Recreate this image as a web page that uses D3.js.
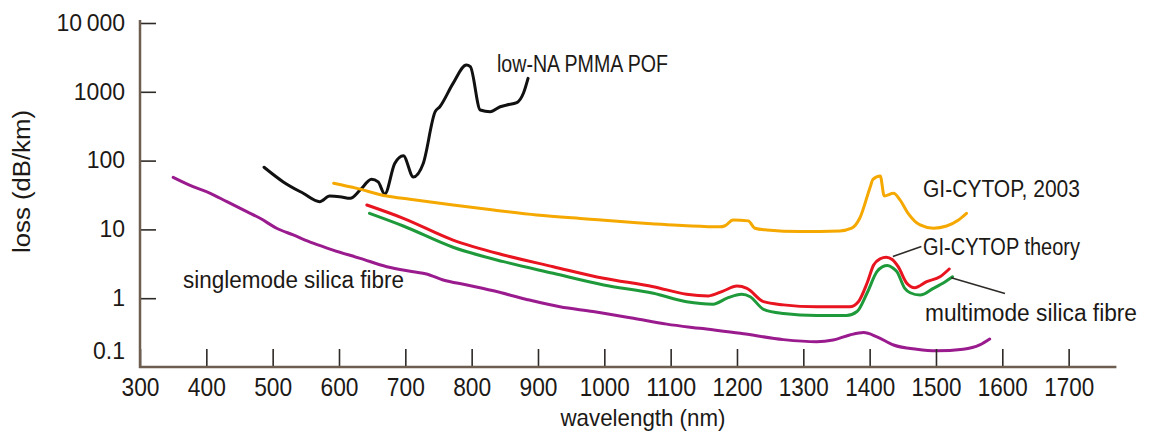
<!DOCTYPE html>
<html>
<head>
<meta charset="utf-8">
<script src="https://cdn.jsdelivr.net/npm/d3@7"></script>
<style>
  html, body { margin: 0; padding: 0; background: #ffffff; }
  svg { display: block; }
  text { font-family: "Liberation Sans", Arial, sans-serif; fill: #1c1916; }
</style>
</head>
<body>
<svg id="chart" width="1149" height="432"></svg>
<script>
// Attenuation spectra of optical fibres, loss (dB/km) against wavelength (nm)

// Axis ticks
const wavelengthTicks = [300, 400, 500, 600, 700, 800, 900, 1000, 1100, 1200, 1300, 1400, 1500, 1600, 1700];
const lossTicks = [0.1, 1, 10, 100, 1000, 10000];
const lossTickLabels = ["0.1", "1", "10", "100", "1000", "10\u2009000"];

// low-NA PMMA POF
const pofNm   = [487, 516, 546, 571, 586, 601, 617, 632, 649, 659, 669, 684, 697, 712, 727, 745, 752, 772, 792, 798, 813, 828, 843, 853, 868, 878, 885];
const pofLoss = [80, 49, 33.5, 25.3, 30.5, 29.9, 28.3, 37.4, 53.5, 49, 32.7, 91, 118, 58, 91, 514, 607, 1327, 2455, 2317, 543, 514, 607, 643, 695, 951, 1570];

// GI-CYTOP, 2003
const cytopNm   = [592, 627, 672, 707, 772, 833, 898, 973, 1049, 1124, 1174, 1182, 1194, 1217, 1227, 1245, 1295, 1355, 1373, 1385, 1401, 1405, 1416, 1422, 1436, 1446, 1458, 1476, 1496, 1516, 1534, 1546];
const cytopLoss = [46.8, 39.5, 30.5, 27.4, 22.6, 19.1, 16.2, 14.2, 12.5, 11.3, 10.9, 11.3, 13.7, 13.3, 10.4, 9.8, 9.3, 9.5, 10.4, 14.5, 41.8, 53.5, 59.7, 30.6, 33.5, 26.7, 17.1, 11.6, 10.4, 11.2, 13.7, 17.1];

// GI-CYTOP theory
const theoryNm   = [642, 697, 772, 848, 923, 999, 1074, 1124, 1157, 1179, 1200, 1215, 1240, 1270, 1320, 1370, 1383, 1396, 1406, 1416, 1425, 1434, 1443, 1456, 1468, 1486, 1506, 1520];
const theoryLoss = [22.6, 14.5, 7.0, 4.25, 2.87, 1.95, 1.47, 1.14, 1.08, 1.27, 1.5, 1.39, 0.89, 0.80, 0.75, 0.75, 0.89, 1.65, 3.04, 3.75, 3.95, 3.65, 2.87, 1.65, 1.42, 1.74, 2.05, 2.66];

// multimode silica fibre
const multimodeNm   = [646, 697, 772, 848, 923, 999, 1074, 1124, 1164, 1185, 1207, 1220, 1240, 1270, 1320, 1365, 1381, 1396, 1411, 1419, 1427, 1435, 1441, 1453, 1461, 1476, 1496, 1514, 1525];
const multimodeLoss = [17.1, 11.2, 5.5, 3.4, 2.3, 1.56, 1.18, 0.89, 0.82, 1.0, 1.14, 1.05, 0.69, 0.60, 0.56, 0.56, 0.64, 1.18, 2.43, 2.85, 2.98, 2.75, 2.43, 1.39, 1.2, 1.11, 1.39, 1.74, 2.05];

// singlemode silica fibre
const singlemodeNm   = [350, 380, 406, 431, 461, 481, 506, 531, 561, 591, 632, 672, 712, 732, 757, 793, 833, 883, 933, 983, 1044, 1094, 1144, 1205, 1270, 1320, 1345, 1370, 1391, 1411, 1436, 1471, 1501, 1541, 1566, 1581];
const singlemodeLoss = [57.1, 41.8, 33.5, 25.3, 18.1, 14.5, 10.4, 8.3, 6.3, 5.0, 3.8, 2.87, 2.43, 2.25, 1.84, 1.56, 1.28, 0.96, 0.75, 0.64, 0.51, 0.42, 0.365, 0.31, 0.25, 0.233, 0.247, 0.292, 0.317, 0.275, 0.209, 0.181, 0.172, 0.181, 0.209, 0.255];

const series = [
  { name: "singlemode silica fibre", nm: singlemodeNm, loss: singlemodeLoss, color: "#9a1b8e" },
  { name: "low-NA PMMA POF",         nm: pofNm,        loss: pofLoss,        color: "#111111" },
  { name: "GI-CYTOP, 2003",          nm: cytopNm,      loss: cytopLoss,      color: "#f5a800" },
  { name: "multimode silica fibre",  nm: multimodeNm,  loss: multimodeLoss,  color: "#1f9a3b" },
  { name: "GI-CYTOP theory",         nm: theoryNm,     loss: theoryLoss,     color: "#e8141f" }
];

const svg = d3.select("#chart");

const x = d3.scaleLinear().domain([300, 1772]).range([140, 1116.4]);
const y = d3.scaleLog().domain([0.1, 10000]).range([367, 23]);

// Curves
const line = d3.line()
  .x(d => x(d[0]))
  .y(d => y(d[1]))
  .curve(d3.curveMonotoneX);

svg.append("g").selectAll("path")
  .data(series)
  .join("path")
  .attr("d", s => line(s.nm.map((v, i) => [v, s.loss[i]])))
  .attr("fill", "none")
  .attr("stroke", d => d.color)
  .attr("stroke-width", 3)
  .attr("stroke-linejoin", "round")
  .attr("stroke-linecap", "round");

// X axis (ticks pointing up into the plot)
const xAxis = svg.append("g")
  .attr("transform", `translate(0,${y(0.1)})`)
  .call(d3.axisBottom(x).tickValues(wavelengthTicks).tickFormat(d3.format("d"))
    .tickSizeInner(-18).tickSizeOuter(0).tickPadding(11));
xAxis.select(".domain").remove();
xAxis.selectAll(".tick line").attr("stroke", "#2e2a27").attr("stroke-width", 1.6);
xAxis.selectAll(".tick text")
  .attr("font-size", 25)
  .attr("textLength", d => String(d).length === 3 ? 38 : 50)
  .attr("lengthAdjust", "spacingAndGlyphs");

// Y axis (ticks pointing right into the plot)
const yAxis = svg.append("g")
  .attr("transform", `translate(${x(300)},0)`)
  .call(d3.axisLeft(y).tickValues(lossTicks)
    .tickFormat((d, i) => lossTickLabels[i])
    .tickSizeInner(-16).tickSizeOuter(0).tickPadding(15));
yAxis.select(".domain").remove();
yAxis.selectAll(".tick line").attr("stroke", "#2e2a27").attr("stroke-width", 1.6);
yAxis.selectAll(".tick text").attr("font-size", 23);
// the lowest decade sits on the x axis: no tick, label lifted clear of it
yAxis.selectAll(".tick").filter(d => d === 0.1)
  .call(t => t.select("line").remove())
  .select("text").attr("y", -16);

// Axis lines
const axisColor = "#6d5e4f";
svg.append("line")
  .attr("x1", x(300)).attr("x2", x(300))
  .attr("y1", y(10000) - 3).attr("y2", y(0.1) + 1)
  .attr("stroke", axisColor).attr("stroke-width", 2.5);
svg.append("line")
  .attr("x1", x(300) - 1).attr("x2", x(1772))
  .attr("y1", y(0.1)).attr("y2", y(0.1))
  .attr("stroke", axisColor).attr("stroke-width", 2.5);

// Axis titles
svg.append("text")
  .attr("transform", `translate(30,181.5) rotate(-90)`)
  .attr("text-anchor", "middle")
  .attr("font-size", 23)
  .attr("textLength", 143)
  .attr("lengthAdjust", "spacingAndGlyphs")
  .text("loss (dB/km)");

svg.append("text")
  .attr("x", 643).attr("y", 426)
  .attr("text-anchor", "middle")
  .attr("font-size", 24)
  .attr("textLength", 165)
  .attr("lengthAdjust", "spacingAndGlyphs")
  .text("wavelength (nm)");

// Curve labels
const labels = [
  { text: "low-NA PMMA POF",         x: 497, y: 72,  w: 171 },
  { text: "GI-CYTOP, 2003",          x: 923, y: 197, w: 157 },
  { text: "GI-CYTOP theory",         x: 923, y: 255, w: 157 },
  { text: "multimode silica fibre",  x: 925, y: 321, w: 212 },
  { text: "singlemode silica fibre", x: 183, y: 288, w: 221 }
];
svg.append("g").selectAll("text")
  .data(labels)
  .join("text")
  .attr("x", d => d.x).attr("y", d => d.y)
  .attr("font-size", 23)
  .attr("textLength", d => d.w)
  .attr("lengthAdjust", "spacingAndGlyphs")
  .text(d => d.text);

// Leader lines from label to curve, in data units
const leaders = [
  { from: [1478, 5.64], to: [1435, 4.04] },
  { from: [1523, 1.98], to: [1604, 1.17] }
];
svg.append("g").selectAll("line")
  .data(leaders)
  .join("line")
  .attr("x1", d => x(d.from[0])).attr("y1", d => y(d.from[1]))
  .attr("x2", d => x(d.to[0])).attr("y2", d => y(d.to[1]))
  .attr("stroke", "#2e2a27")
  .attr("stroke-width", 1.6);
</script>
</body>
</html>
